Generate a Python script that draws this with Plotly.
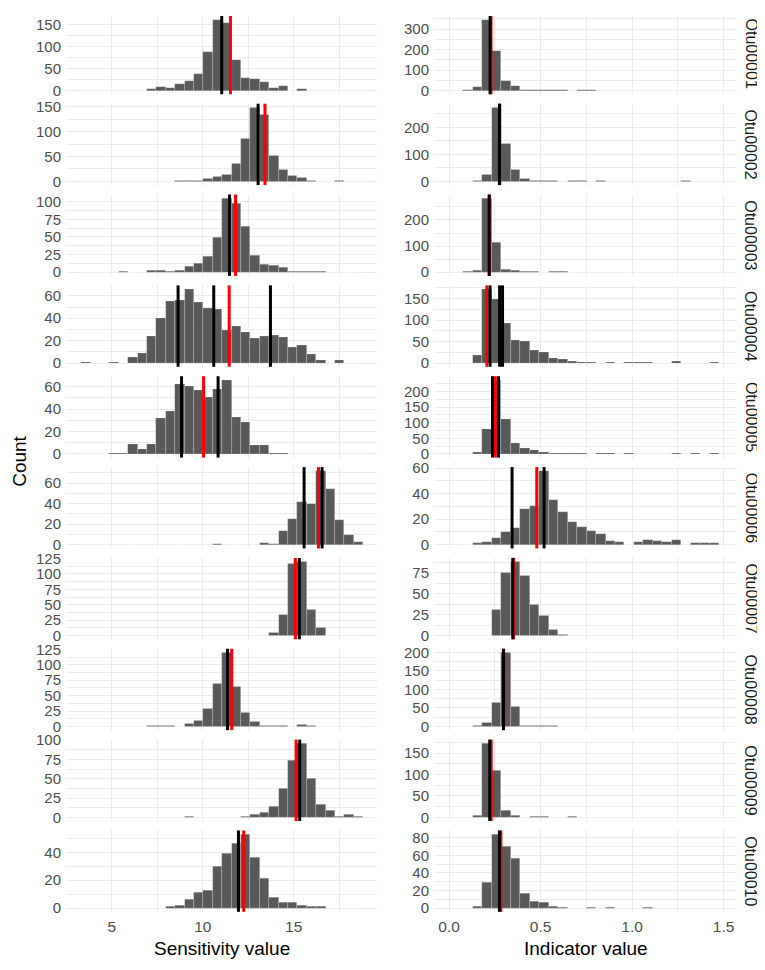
import plotly.graph_objects as go

# OTU facets (rows)
otu_names = ["Otu00001", "Otu00002", "Otu00003", "Otu00004", "Otu00005",
             "Otu00006", "Otu00007", "Otu00008", "Otu00009", "Otu00010"]

# histogram bins shared by each column (30 bins)
sens_bin_start = 3.31
sens_bin_width = 0.517
ind_bin_start = 0.0259
ind_bin_width = 0.0518

# sensitivity value counts per bin
sens_otu00001 = [0, 0, 0, 0, 0, 0, 0, 3, 9, 7, 15, 21, 37, 89, 162, 154, 69, 30, 27, 19, 5, 10, 0, 3, 0, 0, 0, 0, 0, 0]
sens_otu00002 = [0, 0, 0, 0, 0, 0, 0, 0, 0, 0, 1, 2, 2, 5, 9, 13, 35, 85, 149, 135, 51, 23, 11, 8, 2, 0, 0, 1, 0, 0]
sens_otu00003 = [0, 0, 0, 0, 1, 0, 0, 2, 3, 1, 3, 8, 13, 22, 49, 105, 98, 65, 24, 11, 9, 6, 1, 1, 1, 1, 0, 0, 0, 0]
sens_otu00004 = [1, 0, 0, 1, 0, 5, 9, 24, 40, 55, 56, 66, 54, 49, 48, 29, 33, 27, 22, 24, 25, 23, 14, 16, 8, 2, 0, 2, 0, 0]
sens_otu00005 = [0, 0, 0, 1, 1, 9, 4, 9, 32, 38, 62, 60, 57, 51, 58, 66, 33, 28, 8, 8, 1, 1, 0, 0, 0, 0, 0, 0, 0, 0]
sens_otu00006 = [0, 0, 0, 0, 0, 0, 0, 0, 0, 0, 0, 0, 0, 0, 1, 0, 0, 0, 0, 2, 1, 13, 25, 42, 40, 72, 54, 24, 9, 3]
sens_otu00007 = [0, 0, 0, 0, 0, 0, 0, 0, 0, 0, 0, 0, 0, 0, 0, 0, 0, 0, 0, 0, 5, 33, 117, 120, 42, 12, 0, 0, 0, 0]
sens_otu00008 = [0, 0, 0, 0, 0, 0, 0, 1, 1, 1, 0, 4, 10, 29, 70, 120, 64, 23, 7, 1, 1, 1, 0, 2, 1, 0, 0, 0, 0, 0]
sens_otu00009 = [0, 0, 0, 0, 0, 0, 0, 0, 0, 0, 0, 1, 0, 0, 0, 0, 0, 1, 3, 6, 14, 37, 74, 96, 50, 16, 9, 1, 3, 1]
sens_otu00010 = [0, 0, 0, 0, 0, 0, 0, 0, 0, 1, 2, 6, 11, 13, 30, 39, 46, 53, 36, 21, 8, 4, 4, 2, 1, 1, 0, 0, 0, 0]

# indicator value counts per bin
ind_otu00001 = [0, 1, 16, 346, 192, 49, 25, 5, 4, 3, 3, 2, 0, 2, 1, 0, 0, 0, 0, 0, 0, 0, 0, 0, 0, 0, 0, 0, 0, 0]
ind_otu00002 = [0, 0, 4, 25, 274, 141, 45, 11, 4, 3, 2, 0, 2, 2, 0, 2, 0, 0, 0, 0, 0, 0, 0, 0, 1, 0, 0, 0, 0, 0]
ind_otu00003 = [0, 1, 7, 283, 113, 12, 5, 3, 3, 0, 2, 2, 0, 0, 0, 0, 0, 0, 0, 0, 0, 0, 0, 0, 0, 0, 0, 0, 0, 0]
ind_otu00004 = [0, 0, 17, 172, 147, 93, 53, 51, 29, 25, 11, 8, 4, 2, 2, 0, 2, 0, 1, 1, 1, 0, 0, 3, 0, 0, 0, 1, 0, 0]
ind_otu00005 = [0, 0, 4, 80, 237, 110, 33, 17, 13, 6, 3, 3, 2, 3, 0, 2, 1, 0, 1, 0, 0, 0, 0, 1, 0, 1, 0, 1, 0, 0]
ind_otu00006 = [0, 0, 1, 2, 5, 10, 13, 28, 30, 58, 35, 26, 18, 14, 11, 8, 3, 2, 0, 2, 4, 3, 2, 4, 0, 1, 1, 1, 0, 0]
ind_otu00007 = [0, 0, 0, 0, 30, 75, 88, 71, 36, 23, 7, 1, 0, 0, 0, 0, 0, 0, 0, 0, 0, 0, 0, 0, 0, 0, 0, 0, 0, 0]
ind_otu00008 = [0, 0, 3, 11, 64, 200, 54, 1, 1, 2, 1, 0, 0, 0, 0, 0, 0, 0, 0, 0, 0, 0, 0, 0, 0, 0, 0, 0, 0, 0]
ind_otu00009 = [0, 0, 4, 173, 109, 15, 3, 0, 1, 1, 0, 0, 1, 0, 0, 0, 0, 0, 0, 0, 0, 0, 0, 0, 0, 0, 0, 0, 0, 0]
ind_otu00010 = [0, 0, 2, 29, 84, 70, 56, 17, 8, 6, 2, 1, 0, 0, 1, 0, 1, 0, 0, 0, 1, 0, 0, 0, 0, 0, 0, 0, 0, 0]

# reference lines (black = per group, red = overall)
sens_black = [[11.04], [13.04], [11.47], [8.64, 10.60, 13.72], [8.83, 10.84],
              [15.57, 16.56], [15.31], [11.36], [15.33], [11.96]]
sens_red = [11.52, 13.42, 11.80, 11.45, 10.04, 16.36, 15.09, 11.59, 15.13, 12.25]
ind_black = [[0.224], [0.275], [0.219], [0.224, 0.276, 0.292], [0.237, 0.270],
             [0.344, 0.519], [0.348], [0.297], [0.222], [0.275]]
ind_red = [0.229, 0.277, 0.220, 0.206, 0.253, 0.479, 0.352, 0.298, 0.230, 0.283]

# y tick steps per facet
sens_dtick = [50, 50, 25, 20, 20, 20, 25, 25, 25, 20]
ind_dtick = [100, 100, 100, 50, 50, 20, 25, 50, 50, 20]

sens_counts = [sens_otu00001, sens_otu00002, sens_otu00003, sens_otu00004, sens_otu00005,
               sens_otu00006, sens_otu00007, sens_otu00008, sens_otu00009, sens_otu00010]
ind_counts = [ind_otu00001, ind_otu00002, ind_otu00003, ind_otu00004, ind_otu00005,
              ind_otu00006, ind_otu00007, ind_otu00008, ind_otu00009, ind_otu00010]

# page has an 8px body margin, so the figure is shrunk and positions shifted by it
OFF = 8
W, H = 765 - OFF, 970 - 2 * OFF
FONT = "Liberation Sans, Arial, sans-serif"
GRID = "#ebebeb"
row_top, row_h, row_pitch = 4.8 - OFF, 82.5, 92.1
col_dom = [((67 - OFF) / W, (377 - OFF) / W), ((435 - OFF) / W, (737 - OFF) / W)]
col_range = [(2.53, 19.58), (-0.077, 1.573)]
col_dtick = [5, 0.5]


def px_x(p):
    return (p - OFF) / W


def px_y(p):
    return 1 - (p - OFF) / H


fig = go.Figure()
layout = {}
shapes = []
annotations = []

for r in range(10):
    top = row_top + r * row_pitch
    ydom = [max(0, 1 - (top + row_h) / H), min(1, 1 - top / H)]
    for c in range(2):
        n = r * 2 + c + 1
        sfx = "" if n == 1 else str(n)
        if c == 0:
            counts, start, width = sens_counts[r], sens_bin_start, sens_bin_width
            blacks, red, dt = sens_black[r], sens_red[r], sens_dtick[r]
        else:
            counts, start, width = ind_counts[r], ind_bin_start, ind_bin_width
            blacks, red, dt = ind_black[r], ind_red[r], ind_dtick[r]
        centers = [start + (i + 0.5) * width for i in range(len(counts))]
        fig.add_trace(go.Bar(
            x=centers, y=counts, width=width,
            marker=dict(color="#595959", line=dict(color="rgba(255,255,255,0.3)", width=0.6)),
            xaxis="x" + sfx, yaxis="y" + sfx, showlegend=False,
        ))
        ymax = max(counts)
        layout["xaxis" + sfx] = dict(
            domain=col_dom[c], anchor="y" + sfx, range=col_range[c],
            tick0=0, dtick=col_dtick[c], showgrid=True, gridcolor=GRID, gridwidth=1.4,
            minor=dict(tick0=0, dtick=col_dtick[c] / 2, showgrid=True, gridcolor=GRID, gridwidth=0.7),
            zeroline=False, showline=False, ticks="",
            showticklabels=(r == 9), tickformat=(".1f" if c == 1 else "d"),
            tickfont=dict(family=FONT, size=15.5, color="#4d4d4d"),
            ticklabelstandoff=4,
        )
        layout["yaxis" + sfx] = dict(
            domain=ydom, anchor="x" + sfx, range=[-0.05 * ymax, 1.05 * ymax],
            tick0=0, dtick=dt, showgrid=True, gridcolor=GRID, gridwidth=1.4,
            minor=dict(tick0=0, dtick=dt / 2, showgrid=True, gridcolor=GRID, gridwidth=0.7),
            zeroline=False, showline=False, ticks="",
            tickfont=dict(family=FONT, size=15, color="#4d4d4d"),
            ticklabelstandoff=5,
        )
        # red first, black drawn over it
        lines = [(red, "red")] + [(b, "black") for b in blacks]
        for v, col in lines:
            shapes.append(dict(
                type="line", xref="x" + sfx, yref="y" + sfx + " domain",
                x0=v, x1=v, y0=0, y1=1,
                line=dict(color=col, width=3),
            ))
    # strip label
    annotations.append(dict(
        text=otu_names[r], xref="paper", yref="paper",
        x=px_x(751), y=1 - (top + row_h / 2) / H, showarrow=False, textangle=90,
        font=dict(family=FONT, size=16, color="#1a1a1a"),
        xanchor="center", yanchor="middle",
    ))

annotations += [
    dict(text="Count", xref="paper", yref="paper", x=px_x(20), y=px_y(460),
         showarrow=False, textangle=-90, font=dict(family=FONT, size=19, color="black"),
         xanchor="center", yanchor="middle"),
    dict(text="Sensitivity value", xref="paper", yref="paper", x=px_x(222), y=px_y(953),
         showarrow=False, font=dict(family=FONT, size=19, color="black"),
         xanchor="center", yanchor="middle"),
    dict(text="Indicator value", xref="paper", yref="paper", x=px_x(586), y=px_y(953),
         showarrow=False, font=dict(family=FONT, size=19, color="black"),
         xanchor="center", yanchor="middle"),
]

fig.update_layout(
    width=W, height=H,
    margin=dict(l=0, r=0, t=0, b=0),
    paper_bgcolor="white", plot_bgcolor="white",
    bargap=0, barmode="overlay",
    shapes=shapes, annotations=annotations,
    **layout,
)

fig.write_html("out.html")
